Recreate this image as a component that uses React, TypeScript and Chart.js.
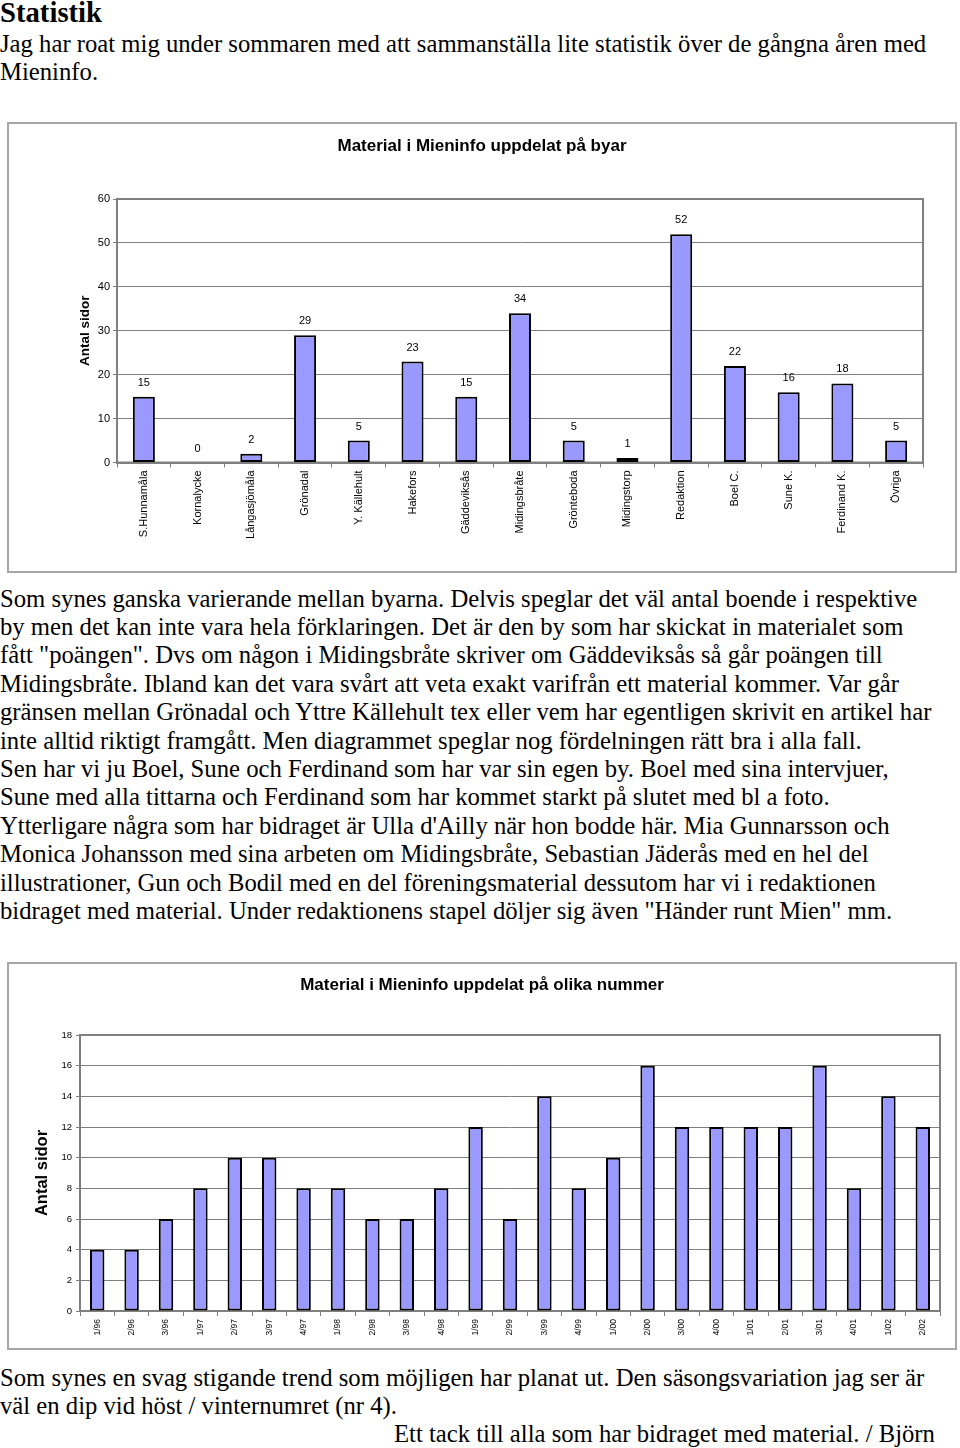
import React, { useEffect, useRef } from "react";
import { Chart, registerables } from "chart.js";

Chart.register(...registerables);
Chart.defaults.font.family = "'Liberation Sans', Arial, Helvetica, sans-serif";
Chart.defaults.color = "#000";

// ---- Data: chart 1 (per village) ----
const villageLabels = [
  "S.Hunnamåla",
  "Kornalycke",
  "Långasjömåla",
  "Grönadal",
  "Y. Källehult",
  "Hakefors",
  "Gäddeviksås",
  "Midingsbråte",
  "Grönteboda",
  "Midingstorp",
  "Redaktion",
  "Boel C.",
  "Sune K.",
  "Ferdinand K.",
  "Övriga",
];
const villagePages = [15, 0, 2, 29, 5, 23, 15, 34, 5, 1, 52, 22, 16, 18, 5];
const villageTicks = [0, 10, 20, 30, 40, 50, 60];

// ---- Data: chart 2 (per issue) ----
const issueLabels = [
  "1/96", "2/96", "3/96",
  "1/97", "2/97", "3/97", "4/97",
  "1/98", "2/98", "3/98", "4/98",
  "1/99", "2/99", "3/99", "4/99",
  "1/00", "2/00", "3/00", "4/00",
  "1/01", "2/01", "3/01", "4/01",
  "1/02", "2/02",
];
const issuePages = [4, 4, 6, 8, 10, 10, 8, 8, 6, 6, 8, 12, 6, 14, 8, 10, 16, 12, 12, 12, 12, 16, 8, 14, 12];
const issueTicks = [0, 2, 4, 6, 8, 10, 12, 14, 16, 18];

const AXIS_GRAY = "#808080";

const plotFrame = {
  id: "plotFrame",
  beforeDatasetsDraw(chart: any) {
    const { ctx, chartArea: a } = chart;
    ctx.save();
    ctx.strokeStyle = AXIS_GRAY;
    ctx.lineWidth = 2;
    ctx.strokeRect(a.left, a.top, a.right - a.left, a.bottom - a.top);
    ctx.restore();
  },
};

const valueLabels = {
  id: "valueLabels",
  afterDatasetsDraw(chart: any) {
    const { ctx } = chart;
    ctx.save();
    ctx.font = "11px 'Liberation Sans', Arial, sans-serif";
    ctx.fillStyle = "#000";
    ctx.textAlign = "center";
    ctx.textBaseline = "middle";
    chart.data.datasets.forEach((ds: any, i: number) => {
      const meta = chart.getDatasetMeta(i);
      meta.data.forEach((el: any, j: number) => {
        ctx.fillText(String(ds.data[j]), el.x, el.y - 14);
      });
    });
    ctx.restore();
  },
};

type P = {
  title: string;
  labels: string[];
  values: number[];
  ticks: number[];
  side: number;
  yWidth: number;
  yTitleSize: number;
  yTitlePad: number;
  xHeight: number;
  titleTop: number;
  titleBottom: number;
  xFont: number;
  yFont: number;
  yTickPad: number;
  barPct: number;
  showValues: boolean;
};

function makeConfig(p: P): any {
  return {
    type: "bar",
    data: {
      labels: p.labels,
      datasets: [
        {
          data: p.values,
          backgroundColor: "#9999ff",
          borderColor: "#000000",
          borderWidth: 2,
          borderSkipped: false,
          barPercentage: p.barPct,
          categoryPercentage: 1,
        },
      ],
    },
    options: {
      responsive: false,
      animation: false,
      layout: { padding: { left: p.side, right: p.side, top: 0, bottom: 0 } },
      plugins: {
        legend: { display: false },
        tooltip: { enabled: false },
        title: {
          display: true,
          text: p.title,
          color: "#000",
          font: { size: 17, weight: "bold" },
          padding: { top: p.titleTop, bottom: p.titleBottom },
        },
      },
      scales: {
        x: {
          grid: {
            display: true,
            drawOnChartArea: false,
            drawTicks: true,
            tickLength: 5,
            color: AXIS_GRAY,
            offset: true,
          },
          border: { display: true, color: AXIS_GRAY, width: 2 },
          ticks: {
            autoSkip: false,
            maxRotation: 90,
            minRotation: 90,
            padding: 3,
            color: "#000",
            font: { size: p.xFont },
          },
          afterFit: (s: any) => {
            s.height = p.xHeight;
          },
        },
        y: {
          min: p.ticks[0],
          max: p.ticks[p.ticks.length - 1],
          ticks: {
            stepSize: p.ticks[1] - p.ticks[0],
            padding: p.yTickPad,
            color: "#000",
            font: { size: p.yFont },
          },
          grid: { color: AXIS_GRAY, lineWidth: 1, tickLength: 4 },
          border: { display: true, color: AXIS_GRAY, width: 2 },
          title: {
            display: true,
            text: "Antal sidor",
            color: "#000",
            font: { size: p.yTitleSize, weight: "bold" },
            padding: { top: p.yTitlePad, bottom: 0 },
          },
          afterFit: (s: any) => {
            s.width = p.yWidth;
          },
        },
      },
    },
    plugins: p.showValues ? [plotFrame, valueLabels] : [plotFrame],
  };
}

function BarChart({ cfg, width, height }: { cfg: P; width: number; height: number }) {
  const ref = useRef<HTMLCanvasElement | null>(null);
  useEffect(() => {
    if (!ref.current) return;
    const chart = new Chart(ref.current, makeConfig(cfg));
    return () => chart.destroy();
  }, [cfg]);
  return (
    <canvas
      ref={ref}
      width={width}
      height={height}
      style={{ position: "absolute", left: 0, top: 0, width, height }}
    />
  );
}

const chart1: P = {
  title: "Material i Mieninfo uppdelat på byar",
  labels: villageLabels,
  values: villagePages,
  ticks: villageTicks,
  side: 32,
  yWidth: 76,
  yTitleSize: 13.5,
  yTitlePad: 36,
  xHeight: 108.5,
  titleTop: 12,
  titleBottom: 42.6,
  xFont: 11,
  yFont: 11,
  yTickPad: 3,
  barPct: 0.41,
  showValues: true,
};

const chart2: P = {
  title: "Material i Mieninfo uppdelat på olika nummer",
  labels: issueLabels,
  values: issuePages,
  ticks: issueTicks,
  side: 15,
  yWidth: 56,
  yTitleSize: 16.5,
  yTitlePad: 9,
  xHeight: 37,
  titleTop: 10.8,
  titleBottom: 39.8,
  xFont: 8.5,
  yFont: 9.5,
  yTickPad: 4,
  barPct: 0.42,
  showValues: false,
};

const serif = "'Liberation Serif', 'Times New Roman', Times, serif";
const textStyle: React.CSSProperties = {
  position: "absolute",
  left: 0,
  margin: 0,
  fontFamily: serif,
  fontSize: "24.7px",
  lineHeight: "28.4px",
  whiteSpace: "nowrap",
  color: "#000",
};

const frameStyle = (top: number, height: number): React.CSSProperties => ({
  position: "absolute",
  left: 7,
  top,
  width: 950,
  height,
  border: "2px solid #a6a6a6",
  boxSizing: "border-box",
  background: "#fff",
});

export default function App() {
  return (
    <div
      style={{
        position: "absolute",
        left: 0,
        top: 0,
        width: 960,
        height: 1448,
        overflow: "hidden",
        background: "#fff",
      }}
    >
      <div
        style={{
          ...textStyle,
          top: -4,
          fontWeight: "bold",
          fontSize: "28.7px",
          lineHeight: "33px",
        }}
      >
        Statistik
      </div>
      <div style={{ ...textStyle, top: 29.5 }}>
        Jag har roat mig under sommaren med att sammanställa lite statistik över de gångna åren med
        <br />
        Mieninfo.
      </div>

      <div style={frameStyle(122, 451)}>
        <BarChart cfg={chart1} width={946} height={447} />
      </div>

      <div style={{ ...textStyle, top: 584.5 }}>
        Som synes ganska varierande mellan byarna. Delvis speglar det väl antal boende i respektive
        <br />
        by men det kan inte vara hela förklaringen. Det är den by som har skickat in materialet som
        <br />
        fått "poängen". Dvs om någon i Midingsbråte skriver om Gäddeviksås så går poängen till
        <br />
        Midingsbråte. Ibland kan det vara svårt att veta exakt varifrån ett material kommer. Var går
        <br />
        gränsen mellan Grönadal och Yttre Källehult tex eller vem har egentligen skrivit en artikel har
        <br />
        inte alltid riktigt framgått. Men diagrammet speglar nog fördelningen rätt bra i alla fall.
        <br />
        Sen har vi ju Boel, Sune och Ferdinand som har var sin egen by. Boel med sina intervjuer,
        <br />
        Sune med alla tittarna och Ferdinand som har kommet starkt på slutet med bl a foto.
        <br />
        Ytterligare några som har bidraget är Ulla d'Ailly när hon bodde här. Mia Gunnarsson och
        <br />
        Monica Johansson med sina arbeten om Midingsbråte, Sebastian Jäderås med en hel del
        <br />
        illustrationer, Gun och Bodil med en del föreningsmaterial dessutom har vi i redaktionen
        <br />
        bidraget med material. Under redaktionens stapel döljer sig även "Händer runt Mien" mm.
      </div>

      <div style={frameStyle(962, 388)}>
        <BarChart cfg={chart2} width={946} height={384} />
      </div>

      <div style={{ ...textStyle, top: 1363.5 }}>
        Som synes en svag stigande trend som möjligen har planat ut. Den säsongsvariation jag ser är
        <br />
        väl en dip vid höst / vinternumret (nr 4).
        <br />
        <span style={{ paddingLeft: 394 }}>
          Ett tack till alla som har bidraget med material. / Björn
        </span>
      </div>
    </div>
  );
}
